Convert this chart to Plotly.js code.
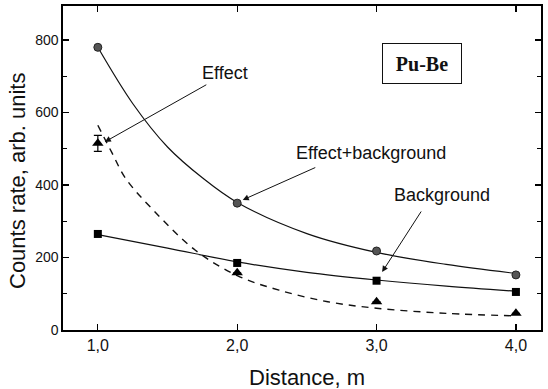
<!DOCTYPE html>
<html>
<head>
<meta charset="utf-8">
<script src="https://cdn.plot.ly/plotly-3.0.1.min.js"></script>
<style>html,body{margin:0;padding:0;background:#fff}#chart{width:548px;height:389px}</style>
</head>
<body>
<div id="chart"></div>
<script>
// Measured points
const distance = [1.0, 2.0, 3.0, 4.0];
const effectBackground = [780, 350, 218, 152];
const background = [265, 185, 136, 105];
const effect = [515, 158, 78, 46];
const effectErr = [22, null, null, null];

// Fit curves
const fitEBx = [1.0, 1.25, 1.5, 1.75, 2.0, 2.5, 3.0, 3.5, 4.0];
const fitEBy = [780, 625, 505, 420, 352, 266, 214, 181, 156];
const fitBx = [1.0, 1.5, 2.0, 2.5, 3.0, 3.5, 4.0];
const fitBy = [263, 226, 188, 159, 138, 121, 107];
const fitEx = [1.0, 1.1, 1.2, 1.4, 1.7, 2.0, 2.3, 2.65, 3.0, 3.5, 4.0];
const fitEy = [565, 490, 418, 330, 220, 150, 110, 78, 60, 46, 39];

const xTickVals = [1, 2, 3, 4];
const xTickText = ['1,0', '2,0', '3,0', '4,0'];
const yTickVals = [0, 200, 400, 600, 800];

const font = 'Liberation Sans, Arial, sans-serif';

const traces = [
  {x: fitEBx, y: fitEBy, mode: 'lines', line: {color: '#111', width: 1.2, shape: 'spline'}, hoverinfo: 'skip'},
  {x: fitBx, y: fitBy, mode: 'lines', line: {color: '#111', width: 1.2, shape: 'spline'}, hoverinfo: 'skip'},
  {x: fitEx, y: fitEy, mode: 'lines', line: {color: '#111', width: 1.4, dash: '7px,6px', shape: 'spline'}, hoverinfo: 'skip'},
  {x: distance, y: effectBackground, mode: 'markers', marker: {symbol: 'circle', size: 8, color: '#555', line: {color: '#222', width: 1}}},
  {x: distance, y: background, mode: 'markers', marker: {symbol: 'square', size: 8, color: '#000'}},
  {x: distance, y: effect, mode: 'markers', marker: {symbol: 'triangle-up', size: 10, color: '#000'},
   error_y: {type: 'data', array: effectErr, visible: true, color: '#000', thickness: 1.2, width: 4}}
];

const layout = {
  width: 548, height: 389,
  margin: {l: 63, r: 7, t: 6, b: 59},
  paper_bgcolor: '#fff', plot_bgcolor: '#fff',
  showlegend: false,
  font: {family: font, color: '#111'},
  xaxis: {
    range: [0.75, 4.18],
    tickvals: xTickVals, ticktext: xTickText,
    ticks: 'inside', ticklen: 6, tickwidth: 1.2, tickcolor: '#000',
    showline: true, linecolor: '#000', linewidth: 1.6, mirror: 'allticks',
    showgrid: false, zeroline: false,
    tickfont: {size: 16, family: font, color: '#111'}
  },
  yaxis: {
    range: [0, 894],
    tickvals: yTickVals,
    ticks: 'inside', ticklen: 6, tickwidth: 1.2, tickcolor: '#000',
    minor: {dtick: 100, tick0: 0, ticks: 'inside', ticklen: 4, tickwidth: 1, tickcolor: '#000', showgrid: false},
    showline: true, linecolor: '#000', linewidth: 1.6, mirror: 'allticks',
    showgrid: false, zeroline: false,
    tickfont: {size: 14, family: font, color: '#111'}
  },
  annotations: [
    {xref: 'paper', yref: 'paper', x: (422 - 63) / 478, y: (330 - 63) / 324, xanchor: 'center', yanchor: 'middle',
     text: '<b>Pu-Be</b>', showarrow: false,
     font: {family: 'Liberation Serif, Times New Roman, serif', size: 20, color: '#111'},
     bordercolor: '#111', borderwidth: 1, width: 76, height: 37, bgcolor: '#fff'},
    {xref: 'x', yref: 'y', x: 1.05, y: 519, ax: 103, ay: -58, text: '', showarrow: true,
     arrowhead: 2, arrowsize: 1.2, arrowwidth: 1, arrowcolor: '#111'},
    {xref: 'x', yref: 'y', x: 2.04, y: 359, ax: 74, ay: -33, text: '', showarrow: true,
     arrowhead: 2, arrowsize: 1.2, arrowwidth: 1, arrowcolor: '#111'},
    {xref: 'x', yref: 'y', x: 3.04, y: 160, ax: 40, ay: -62, text: '', showarrow: true,
     arrowhead: 2, arrowsize: 1.2, arrowwidth: 1, arrowcolor: '#111'},
    {xref: 'paper', yref: 'paper', x: (200 - 63) / 478, y: (330 - 73) / 324, xanchor: 'left', yanchor: 'middle',
     text: 'Effect', showarrow: false, font: {size: 18, family: font, color: '#111'}},
    {xref: 'paper', yref: 'paper', x: (294 - 63) / 478, y: (330 - 153) / 324, xanchor: 'left', yanchor: 'middle',
     text: 'Effect+background', showarrow: false, font: {size: 18, family: font, color: '#111'}},
    {xref: 'paper', yref: 'paper', x: (392 - 63) / 478, y: (330 - 195) / 324, xanchor: 'left', yanchor: 'middle',
     text: 'Background', showarrow: false, font: {size: 18, family: font, color: '#111'}},
    {xref: 'paper', yref: 'paper', x: (307 - 63) / 478, y: (330 - 377) / 324, xanchor: 'center', yanchor: 'middle',
     text: 'Distance, m', showarrow: false, font: {size: 22, family: font, color: '#111'}},
    {xref: 'paper', yref: 'paper', x: (17 - 63) / 478, y: (330 - 181) / 324, xanchor: 'center', yanchor: 'middle',
     text: 'Counts rate, arb. units', textangle: -90, showarrow: false, font: {size: 22, family: font, color: '#111'}}
  ]
};

Plotly.newPlot('chart', traces, layout, {displayModeBar: false, staticPlot: true});
</script>
</body>
</html>
